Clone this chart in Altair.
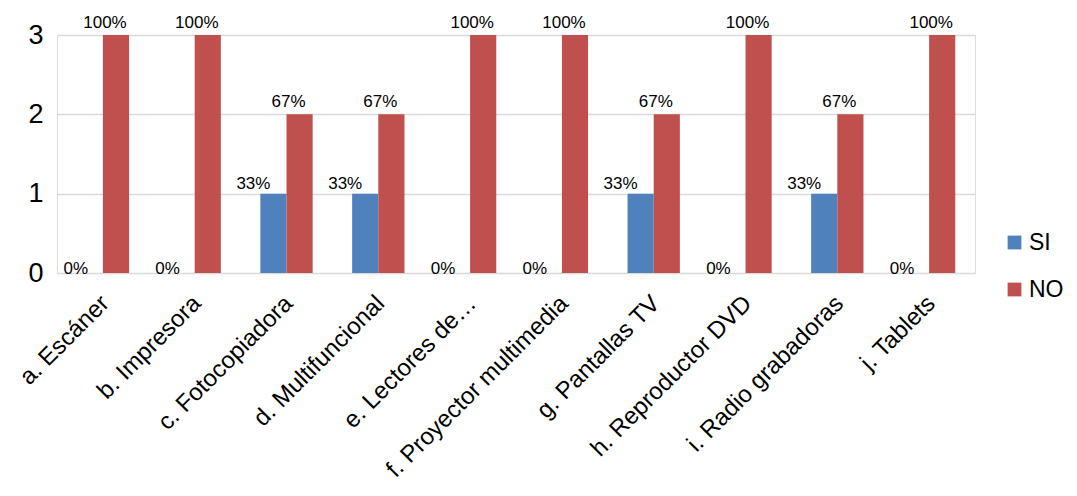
import altair as alt
import pandas as pd

categories = ["a. Escáner", "b. Impresora", "c. Fotocopiadora", "d. Multifuncional",
              "e. Lectores de…", "f. Proyector multimedia", "g. Pantallas TV",
              "h. Reproductor DVD", "i. Radio grabadoras", "j. Tablets"]
si_values = [0, 0, 1, 1, 0, 0, 1, 0, 1, 0]
no_values = [3, 3, 2, 2, 3, 3, 2, 3, 2, 3]
si_labels = ["0%", "0%", "33%", "33%", "0%", "0%", "33%", "0%", "33%", "0%"]
no_labels = ["100%", "100%", "67%", "67%", "100%", "100%", "67%", "100%", "67%", "100%"]
series = ["SI", "NO"]
colors = ["#4F81BD", "#C0504D"]

rows = []
for c, v, l in zip(categories, si_values, si_labels):
    rows.append({"cat": c, "serie": "SI", "val": v, "lab": l})
for c, v, l in zip(categories, no_values, no_labels):
    rows.append({"cat": c, "serie": "NO", "val": v, "lab": l})
df = pd.DataFrame(rows)

FONT = "Liberation Sans"

xenc = alt.X("cat:N", sort=categories, title=None,
             scale=alt.Scale(paddingInner=0.43, paddingOuter=0.215),
             axis=alt.Axis(labelAngle=-45, labelFontSize=24, labelFont=FONT,
                           labelColor="#000000", labelPadding=18, labelOffset=-6,
                           ticks=False, domain=False, labelLimit=400, grid=False))
xoff = alt.XOffset("serie:N", sort=series, scale=alt.Scale(paddingInner=0, paddingOuter=0))
yenc = alt.Y("val:Q", title=None,
             scale=alt.Scale(domain=[0, 3], nice=False),
             axis=alt.Axis(values=[0, 1, 2, 3], format="d", labelFontSize=27,
                           labelFont=FONT, labelColor="#000000", labelPadding=14,
                           ticks=False, domain=False, grid=True,
                           gridColor="#D9D9D9", gridWidth=1.5))

base = alt.Chart(df)

bars = base.mark_bar().encode(
    x=xenc, xOffset=xoff, y=yenc,
    color=alt.Color("serie:N", sort=series,
                    scale=alt.Scale(domain=series, range=colors),
                    legend=alt.Legend(title=None, orient="none", legendX=946, legendY=196,
                                      padding=0, symbolType="square", symbolSize=190,
                                      symbolStrokeWidth=0, labelFontSize=23,
                                      labelFont=FONT, labelColor="#000000",
                                      rowPadding=23, labelOffset=3)),
)

txt_style = dict(fontSize=17, font=FONT, color="#000000", baseline="bottom")

si_pos = base.transform_filter("datum.serie == 'SI' && datum.val > 0").mark_text(
    dx=-20, dy=-1, **txt_style).encode(x=xenc, xOffset=xoff, y=yenc, text="lab:N")
si_zero = base.transform_filter("datum.serie == 'SI' && datum.val == 0").mark_text(
    dx=-14, dy=5, **txt_style).encode(x=xenc, xOffset=xoff, y=yenc, text="lab:N")
no_txt = base.transform_filter("datum.serie == 'NO'").mark_text(
    dx=-11, dy=-3, **txt_style).encode(x=xenc, xOffset=xoff, y=yenc, text="lab:N")

chart = alt.layer(bars, si_pos, si_zero, no_txt).properties(
    width=918, height=238,
    autosize=alt.AutoSizeParams(type="none"),
    padding={"left": 49, "top": 27, "right": 94, "bottom": 215},
).configure_view(strokeWidth=0, stroke="transparent").configure(background="#FFFFFF")

chart.save("out.html", embed_options={"renderer": "svg", "actions": False})
